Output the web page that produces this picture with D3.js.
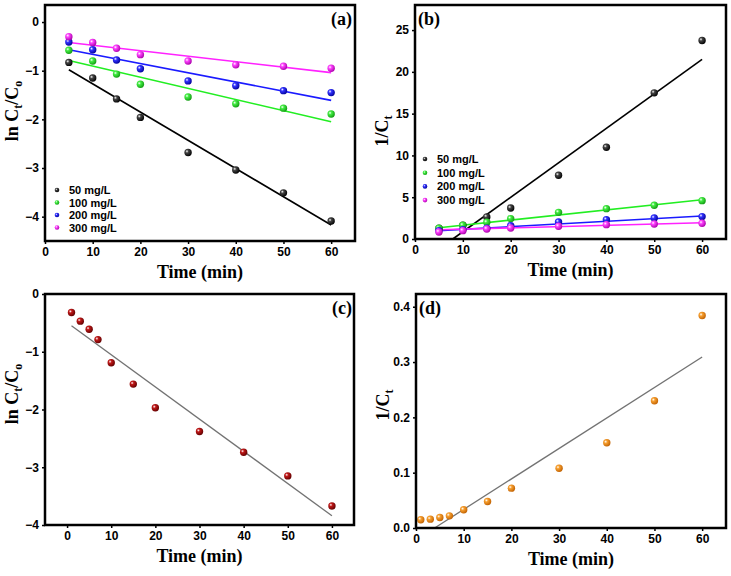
<!DOCTYPE html>
<html>
<head>
<meta charset="utf-8">
<script src="https://cdn.jsdelivr.net/npm/d3@7"></script>
<style>
  body { margin: 0; background: #fff; }
  .tick text { font-family: "Liberation Sans", Arial, sans-serif; font-weight: bold; font-size: 12px; fill: #000; }
  .title { font-family: "Liberation Serif", "Times New Roman", serif; font-weight: bold; font-size: 18px; fill: #000; }
  .legend text { font-family: "Liberation Sans", Arial, sans-serif; font-weight: bold; font-size: 11px; fill: #000; }
</style>
</head>
<body>
<svg id="fig" width="731" height="576"></svg>
<script>
// kinetics data
var timeAB = [5, 10, 15, 20, 30, 40, 50, 60];
var timeCD = [1, 3, 5, 7, 10, 15, 20, 30, 40, 50, 60];
var concLabels = ["50 mg/L", "100 mg/L", "200 mg/L", "300 mg/L"];

// (a) ln Ct/Co, pseudo first order
var lnA50 = [-0.83, -1.15, -1.58, -1.96, -2.68, -3.04, -3.51, -4.09];
var lnA100 = [-0.58, -0.80, -1.07, -1.28, -1.54, -1.68, -1.77, -1.89];
var lnA200 = [-0.41, -0.57, -0.78, -0.96, -1.21, -1.31, -1.41, -1.45];
var lnA300 = [-0.30, -0.42, -0.54, -0.67, -0.80, -0.88, -0.91, -0.95];
// fit line end points [x0, y0, x1, y1]
var fitA = [[5, -0.98, 60, -4.17], [5, -0.79, 60, -2.05], [5, -0.57, 60, -1.61], [5, -0.42, 60, -1.04]];

// (b) 1/Ct, second order
var invB50 = [1.3, 1.64, 2.64, 3.71, 7.63, 10.98, 17.49, 23.76];
var invB100 = [1.28, 1.64, 2.0, 2.44, 3.19, 3.63, 4.03, 4.59];
var invB200 = [1.0, 1.12, 1.28, 1.6, 2.04, 2.32, 2.52, 2.68];
var invB300 = [0.84, 1.0, 1.2, 1.32, 1.52, 1.72, 1.8, 1.88];
var fitB = [[7.9, 0, 60, 21.5], [5, 1.35, 60, 4.7], [5, 1.0, 60, 2.75], [5, 1.1, 60, 1.95]];

// (c) and (d) single run
var lnC = [-0.32, -0.47, -0.61, -0.79, -1.19, -1.56, -1.97, -2.38, -2.74, -3.15, -3.67];
var fitC = [[1, -0.55, 60, -3.84]];
var invD = [0.015, 0.016, 0.019, 0.022, 0.033, 0.048, 0.072, 0.108, 0.154, 0.230, 0.384];
var fitD = [[3.9, 0, 60, 0.309]];

var svg = d3.select("#fig");
var defs = svg.append("defs");

// shaded "ball" markers like Origin uses
function sphere(id, base, dark) {
  var g = defs.append("radialGradient").attr("id", id)
    .attr("cx", "35%").attr("cy", "35%").attr("r", "70%");
  g.append("stop").attr("offset", "0%").attr("stop-color", "#ffffff");
  g.append("stop").attr("offset", "30%").attr("stop-color", base);
  g.append("stop").attr("offset", "100%").attr("stop-color", dark);
  return "url(#" + id + ")";
}

var ballBlack = sphere("gBlack", "#444", "#000");
var ballGreen = sphere("gGreen", "#44ee44", "#119911");
var ballBlue = sphere("gBlue", "#3333ff", "#000099");
var ballPink = sphere("gPink", "#ff44ff", "#aa00aa");
var ballRed = sphere("gRed", "#c01818", "#600000");
var ballOrange = sphere("gOrange", "#f7a030", "#c06000");

function drawPanel(cfg) {
  var x = d3.scaleLinear().domain(cfg.xDomain).range([cfg.box[0], cfg.box[1]]);
  var y = d3.scaleLinear().domain(cfg.yDomain).range([cfg.box[3], cfg.box[2]]);
  var g = svg.append("g");

  g.append("g")
    .attr("transform", "translate(0," + cfg.box[3] + ")")
    .call(d3.axisBottom(x).tickValues(d3.range(0, 61, 10)).tickSize(3).tickPadding(3).tickFormat(d3.format("d")))
    .call(function(a) { a.select(".domain").remove(); a.selectAll("line").attr("stroke-width", 1.5); });

  g.append("g")
    .attr("transform", "translate(" + cfg.box[0] + ",0)")
    .call(d3.axisLeft(y).tickValues(cfg.yTicks).tickSize(3).tickPadding(3).tickFormat(cfg.yFormat))
    .call(function(a) { a.select(".domain").remove(); a.selectAll("line").attr("stroke-width", 1.5); });

  // fit lines
  cfg.series.forEach(function(s) {
    s.fit.forEach(function(f) {
      g.append("line")
        .attr("x1", x(f[0])).attr("y1", y(f[1]))
        .attr("x2", x(f[2])).attr("y2", y(f[3]))
        .attr("stroke", s.line).attr("stroke-width", s.lw || 1.6);
    });
  });

  // points, last series on top like the original
  cfg.series.forEach(function(s) {
    g.selectAll(null)
      .data(s.values.map(function(v, i) { return [cfg.time[i], v]; }))
      .enter().append("circle")
      .attr("cx", function(d) { return x(d[0]); })
      .attr("cy", function(d) { return y(d[1]); })
      .attr("r", 3.7)
      .attr("fill", s.ball);
  });

  // frame
  g.append("rect")
    .attr("x", cfg.box[0]).attr("y", cfg.box[2])
    .attr("width", cfg.box[1] - cfg.box[0]).attr("height", cfg.box[3] - cfg.box[2])
    .attr("fill", "none").attr("stroke", "#000").attr("stroke-width", 2.5);

  if (cfg.legend) {
    var lg = g.append("g").attr("class", "legend");
    cfg.series.forEach(function(s, i) {
      var ly = cfg.legend[1] + i * cfg.legend[2];
      lg.append("circle").attr("cx", cfg.legend[0]).attr("cy", ly).attr("r", 2.3).attr("fill", s.ball);
      lg.append("text").attr("x", cfg.legend[0] + 12).attr("y", ly + 4).text(s.name);
    });
  }

  g.append("text").attr("class", "title")
    .attr("x", (cfg.box[0] + cfg.box[1]) / 2).attr("y", cfg.box[3] + 37)
    .attr("text-anchor", "middle").text("Time (min)");

  var yt = g.append("text").attr("class", "title")
    .attr("font-size", 19)
    .attr("transform", "translate(" + (cfg.box[0] - 27) + "," + cfg.yTitleY + ") rotate(-90)")
    .attr("text-anchor", "middle");
  if (cfg.yTitle === "ln") {
    yt.append("tspan").text("ln C");
    yt.append("tspan").attr("font-size", 12).attr("dy", 4).text("t");
    yt.append("tspan").attr("dy", -4).text("/C");
    yt.append("tspan").attr("font-size", 12).attr("dy", 4).text("o");
  } else {
    yt.append("tspan").text("1/C");
    yt.append("tspan").attr("font-size", 12).attr("dy", 4).text("t");
  }

  g.append("text").attr("class", "title")
    .attr("x", cfg.labelX).attr("y", cfg.box[2] + 20)
    .attr("text-anchor", cfg.labelAnchor).text(cfg.label);
}

var f0 = d3.format("d");

drawPanel({
  box: [45, 355, 5, 241], xDomain: [0, 65], yDomain: [-4.5, 0.35],
  yTicks: [0, -1, -2, -3, -4], yFormat: f0, time: timeAB,
  yTitle: "ln", yTitleY: 111, label: "(a)", labelX: 352, labelAnchor: "end",
  legend: [57, 190, 12.5],
  series: [
    {name: concLabels[0], values: lnA50, ball: ballBlack, line: "#000", fit: [fitA[0]]},
    {name: concLabels[1], values: lnA100, ball: ballGreen, line: "#22ee22", fit: [fitA[1]]},
    {name: concLabels[2], values: lnA200, ball: ballBlue, line: "#1a1aff", fit: [fitA[2]]},
    {name: concLabels[3], values: lnA300, ball: ballPink, line: "#ff22ff", fit: [fitA[3]]}
  ]
});

drawPanel({
  box: [415, 726, 5, 239], xDomain: [0, 65], yDomain: [0, 28],
  yTicks: [0, 5, 10, 15, 20, 25], yFormat: f0, time: timeAB,
  yTitle: "inv", yTitleY: 131, label: "(b)", labelX: 418, labelAnchor: "start",
  legend: [425, 159, 13.7],
  series: [
    {name: concLabels[0], values: invB50, ball: ballBlack, line: "#000", fit: [fitB[0]]},
    {name: concLabels[1], values: invB100, ball: ballGreen, line: "#22ee22", fit: [fitB[1]]},
    {name: concLabels[2], values: invB200, ball: ballBlue, line: "#1a1aff", fit: [fitB[2]]},
    {name: concLabels[3], values: invB300, ball: ballPink, line: "#ff22ff", fit: [fitB[3]]}
  ]
});

drawPanel({
  box: [45, 354, 294, 525], xDomain: [-5, 65], yDomain: [-4, 0],
  yTicks: [0, -1, -2, -3, -4], yFormat: f0, time: timeCD,
  yTitle: "ln", yTitleY: 394, label: "(c)", labelX: 352, labelAnchor: "end",
  series: [
    {name: "", values: lnC, ball: ballRed, line: "#737373", lw: 1.3, fit: fitC}
  ]
});

drawPanel({
  box: [416, 726, 294, 528], xDomain: [0, 65], yDomain: [0, 0.423],
  yTicks: [0, 0.1, 0.2, 0.3, 0.4], yFormat: d3.format(".1f"), time: timeCD,
  yTitle: "inv", yTitleY: 405, label: "(d)", labelX: 419, labelAnchor: "start",
  series: [
    {name: "", values: invD, ball: ballOrange, line: "#737373", lw: 1.3, fit: fitD}
  ]
});
</script>
</body>
</html>
